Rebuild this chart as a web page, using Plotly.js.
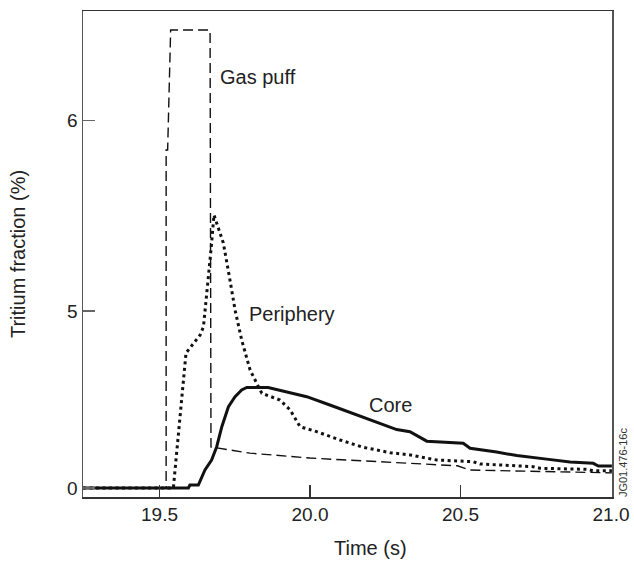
<!DOCTYPE html>
<html>
<head>
<meta charset="utf-8">
<script src="https://cdn.plot.ly/plotly-3.0.1.min.js"></script>
<style>html,body{margin:0;padding:0;background:#fff;}#chart{width:634px;height:563px;}</style>
</head>
<body>
<div id="chart"></div>
<script>
// Gas puff (dashed)
const gasTime = [19.246, 19.522, 19.522, 19.527, 19.537, 19.668, 19.671, 19.80, 20.0, 20.25, 20.49, 20.53, 20.75, 21.003];
const gasFrac = [0, 0, 9.6, 9.6, 13.01, 13.01, 1.165, 0.99, 0.85, 0.74, 0.63, 0.51, 0.47, 0.43];

// Periphery (dotted)
const perTime = [19.246, 19.546, 19.588, 19.635, 19.646, 19.662, 19.671, 19.681, 19.712, 19.734, 19.751, 19.773, 19.801, 19.823, 19.84, 19.90, 19.934, 19.967, 20.022, 20.10, 20.176, 20.222, 20.266, 20.332, 20.421, 20.542, 20.565, 20.741, 20.764, 20.919, 20.94, 21.003];
const perFrac = [0, 0, 3.835, 4.347, 4.58, 5.91, 6.76, 7.756, 6.96, 5.91, 5.057, 4.205, 3.35, 2.974, 2.69, 2.5, 2.216, 1.74, 1.60, 1.364, 1.156, 1.08, 1.003, 0.94, 0.795, 0.747, 0.682, 0.605, 0.56, 0.53, 0.49, 0.49];

// Core (solid)
const coreTime = [19.246, 19.596, 19.601, 19.629, 19.651, 19.673, 19.69, 19.707, 19.729, 19.751, 19.773, 19.79, 19.861, 19.923, 19.989, 20.066, 20.155, 20.244, 20.288, 20.332, 20.388, 20.509, 20.532, 20.62, 20.687, 20.786, 20.864, 20.941, 20.958, 21.003];
const coreFrac = [0, 0, 0.085, 0.085, 0.511, 0.795, 1.173, 1.741, 2.31, 2.594, 2.784, 2.855, 2.855, 2.736, 2.594, 2.358, 2.074, 1.80, 1.66, 1.60, 1.33, 1.27, 1.128, 1.02, 0.92, 0.82, 0.74, 0.70, 0.625, 0.625];

// Axis ticks
const xTickVals = [19.5, 20.0, 20.5, 21.0];
const xTickText = ["19.5", "20.0", "20.5", "21.0"];
const yTickVals = [0, 5.03, 10.43];
const yTickText = ["0", "5", "6"];

const FONT = "Liberation Sans, Arial, Helvetica, sans-serif";
const INK = "#111";

const traces = [
  {x: gasTime, y: gasFrac, mode: "lines", name: "Gas puff",
   line: {color: INK, width: 1.4, dash: "10px,5px"}},
  {x: perTime, y: perFrac, mode: "lines", name: "Periphery",
   line: {color: INK, width: 3, dash: "3px,3.5px"}},
  {x: coreTime, y: coreFrac, mode: "lines", name: "Core",
   line: {color: INK, width: 3}}
];

const layout = {
  width: 634, height: 563,
  margin: {l: 83, r: 22, t: 11, b: 66},
  paper_bgcolor: "#fff", plot_bgcolor: "#fff",
  showlegend: false,
  font: {family: FONT, size: 19, color: "#222"},
  xaxis: {
    range: [19.2458, 21.0033],
    tickvals: xTickVals, ticktext: xTickText,
    ticks: "inside", ticklen: 12, tickwidth: 1.2, tickcolor: "#333",
    showline: true, linecolor: "#333", linewidth: 1.5, mirror: true,
    showgrid: false, zeroline: false,
    tickfont: {family: FONT, size: 19, color: "#222"}
  },
  yaxis: {
    range: [-0.256, 13.55],
    tickvals: yTickVals, ticktext: yTickText,
    ticks: "inside", ticklen: 12, tickwidth: 1.2, tickcolor: "#666",
    showline: true, linecolor: "#555", linewidth: 1.5, mirror: true,
    showgrid: false, zeroline: false,
    tickfont: {family: FONT, size: 19, color: "#222"},
    title: {text: "Tritium fraction (%)", font: {family: FONT, size: 20, color: "#222"}, standoff: 36}
  },
  annotations: [
    {x: 0.544, y: -0.105, xref: "paper", yref: "paper", text: "Time (s)", showarrow: false, xanchor: "center", yanchor: "middle", font: {family: FONT, size: 20, color: "#222"}},
    {x: 19.694, y: 11.68, xref: "x", yref: "y", text: "Gas puff", showarrow: false, xanchor: "left", yanchor: "middle", font: {family: FONT, size: 20, color: "#222"}},
    {x: 19.791, y: 4.94, xref: "x", yref: "y", text: "Periphery", showarrow: false, xanchor: "left", yanchor: "middle", font: {family: FONT, size: 20, color: "#222"}},
    {x: 20.189, y: 2.36, xref: "x", yref: "y", text: "Core", showarrow: false, xanchor: "left", yanchor: "middle", font: {family: FONT, size: 20, color: "#222"}},
    {x: 1.021, y: 0.072, xref: "paper", yref: "paper", text: "JG01.476-16c", showarrow: false, textangle: -90, xanchor: "center", yanchor: "middle", font: {family: FONT, size: 11, color: "#333"}}
  ]
};

Plotly.newPlot("chart", traces, layout, {displayModeBar: false, staticPlot: true});
</script>
</body>
</html>
